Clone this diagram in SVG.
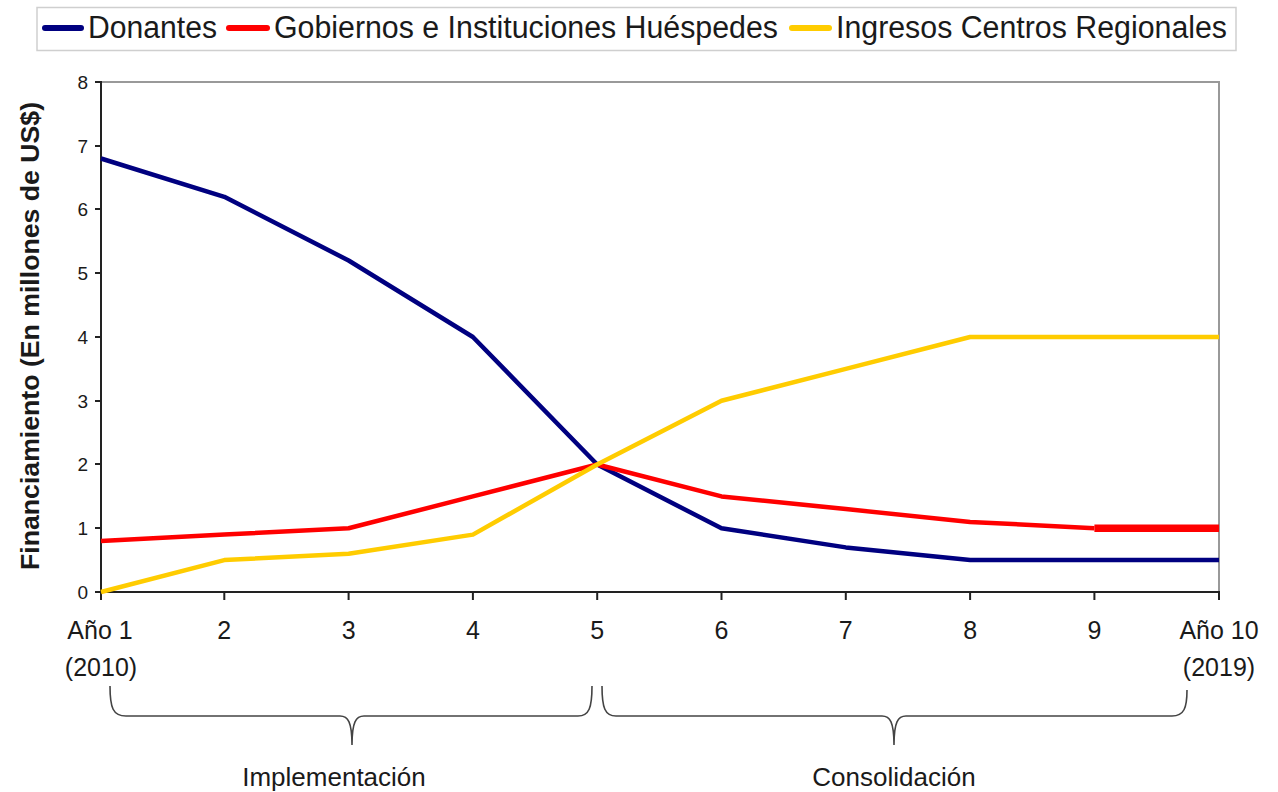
<svg xmlns="http://www.w3.org/2000/svg" width="1278" height="792" viewBox="0 0 1278 792">
<style>
text{font-family:"Liberation Sans",Arial,sans-serif;fill:#1a1a1a}
.leg{font-size:31px}
.yt{font-size:19px;text-anchor:end}
.xt{font-size:25px;text-anchor:middle}
.ph{font-size:26px;text-anchor:middle}
.axis{stroke:#222;stroke-width:2;fill:none}
.frame{stroke:#999;stroke-width:2;fill:none}
.s{fill:none;stroke-width:4.5;stroke-linejoin:round}
.brace{fill:none;stroke:#444;stroke-width:1.6}
</style>
<rect width="1278" height="792" fill="#fff"/>
<g id="legend">
<rect x="37" y="7.5" width="1199" height="43" fill="#fff" stroke="#cfcfcf" stroke-width="1.5"/>
<line x1="45" y1="28" x2="81" y2="28" stroke="#000080" stroke-width="6" stroke-linecap="round"/>
<text class="leg" x="88" y="38" textLength="129" lengthAdjust="spacingAndGlyphs">Donantes</text>
<line x1="229" y1="28" x2="267" y2="28" stroke="#ff0000" stroke-width="6" stroke-linecap="round"/>
<text class="leg" x="274" y="38" textLength="504" lengthAdjust="spacingAndGlyphs">Gobiernos e Instituciones Huéspedes</text>
<line x1="792" y1="28" x2="829" y2="28" stroke="#ffcc00" stroke-width="6" stroke-linecap="round"/>
<text class="leg" x="836" y="38" textLength="391" lengthAdjust="spacingAndGlyphs">Ingresos Centros Regionales</text>
</g>
<g id="axes">
<polyline class="frame" points="101,82 1219,82 1219,592"/>
<line class="axis" x1="101" y1="81" x2="101" y2="600"/>
<line class="axis" x1="100" y1="592" x2="1220" y2="592"/>
<path class="axis" d="M95,82H101M95,146H101M95,209H101M95,273H101M95,337H101M95,401H101M95,464H101M95,528H101M95,592H101"/>
<path class="axis" d="M224.3,592V600M348.6,592V600M472.9,592V600M597.2,592V600M721.5,592V600M845.8,592V600M970.1,592V600M1094.4,592V600M1219,592V600"/>
<text class="yt" x="88" y="89">8</text>
<text class="yt" x="88" y="153">7</text>
<text class="yt" x="88" y="216">6</text>
<text class="yt" x="88" y="280">5</text>
<text class="yt" x="88" y="344">4</text>
<text class="yt" x="88" y="408">3</text>
<text class="yt" x="88" y="471">2</text>
<text class="yt" x="88" y="535">1</text>
<text class="yt" x="88" y="599">0</text>
<text class="xt" x="100" y="639">Año 1</text>
<text class="xt" x="101" y="676">(2010)</text>
<text class="xt" x="224.3" y="639">2</text>
<text class="xt" x="348.6" y="639">3</text>
<text class="xt" x="472.9" y="639">4</text>
<text class="xt" x="597.2" y="639">5</text>
<text class="xt" x="721.5" y="639">6</text>
<text class="xt" x="845.8" y="639">7</text>
<text class="xt" x="970.1" y="639">8</text>
<text class="xt" x="1094.4" y="639">9</text>
<text class="xt" x="1219" y="639">Año 10</text>
<text class="xt" x="1219" y="676">(2019)</text>
<text transform="translate(39,336) rotate(-90)" font-size="26" font-weight="bold" text-anchor="middle" textLength="468" lengthAdjust="spacingAndGlyphs">Financiamiento (En millones de US$)</text>
</g>
<g id="series">
<polyline id="donantes" class="s" stroke="#000080" points="101,158.5 224.3,196.8 348.6,260.5 472.9,337 597.2,464.5 721.5,528.3 845.8,547.4 970.1,560.1 1094.4,560.1 1219,560.1"/>
<polyline id="gobiernos" class="s" stroke="#ff0000" points="101,541 224.3,534.6 348.6,528.3 472.9,496.4 597.2,464.5 721.5,496.4 845.8,509.1 970.1,521.9 1094.4,528.3"/>
<line x1="1094.4" y1="528.3" x2="1219" y2="528.3" stroke="#ff0000" stroke-width="7.5"/>
<polyline id="ingresos" class="s" stroke="#ffcc00" points="101,592 224.3,560.1 348.6,553.8 472.9,534.6 597.2,464.5 721.5,400.8 845.8,368.9 970.1,337 1094.4,337 1219,337"/>
</g>
<g id="phases">
<path class="brace" d="M110,686 C110,708 113,716 126,716 L340,716 C348,716 352,722 352,745 C352,722 356,716 364,716 L578,716 C589,716 592,708 592,686"/>
<text class="ph" x="334" y="786">Implementación</text>
<path class="brace" d="M602,686 C602,708 605,716 616,716 L882,716 C890,716 894,722 894,745 C894,722 898,716 906,716 L1172,716 C1184,716 1187,708 1187,690"/>
<text class="ph" x="894" y="786">Consolidación</text>
</g>
</svg>
